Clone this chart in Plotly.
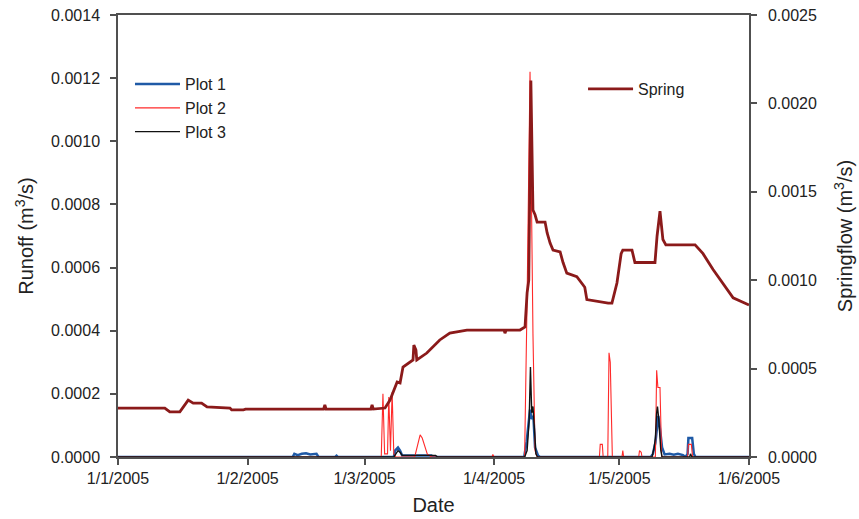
import pandas as pd
import plotly.graph_objects as go

BASE = pd.Timestamp("2005-01-01")

# ---- Spring flow (right axis, m3/s); days since 1 Jan 2005 ----
spring_day = [0, 8, 11.2, 12.4, 14.8, 16.8, 18, 20, 21.3, 26.8, 27.2, 30, 30.5, 49.2, 49.5, 49.8,
              60.5, 60.8, 61.1, 63.9, 65.1, 66.8, 67.5, 68.2, 70.6, 70.8, 71.3, 71.5, 73.9, 77, 79.4,
              83.5, 92.4, 92.6, 92.9, 96.2, 97.4, 97.9, 98.3, 98.8, 99.3, 99.8, 100.3, 102.2, 102.7,
              103.4, 104.1, 105.8, 106.5, 107.4, 109.8, 111.7, 112.2, 117.3, 118.2, 119.4, 119.9,
              120.4, 120.8, 123, 123.7, 128.5, 129, 129.7, 130.4, 131.1, 138.1, 140, 142.4, 144.8,
              147.2, 151]
spring_flow = [0.000277, 0.000277, 0.000277, 0.000255, 0.000255, 0.000322, 0.000305, 0.000305,
               0.000283, 0.000277, 0.000266, 0.000266, 0.000271, 0.000271, 0.000294, 0.000271,
               0.000271, 0.000294, 0.000271, 0.000277, 0.000322, 0.000424, 0.000419, 0.000509,
               0.000549, 0.000633, 0.000605, 0.000549, 0.000588, 0.000662, 0.000701, 0.000718,
               0.000718, 0.000700, 0.000718, 0.000718, 0.000735, 0.000928, 0.001000, 0.002130,
               0.001397, 0.001370, 0.001329, 0.001329, 0.001267, 0.001210, 0.001170, 0.001160,
               0.001100, 0.001040, 0.001020, 0.000960, 0.000890, 0.000870, 0.000870, 0.000984,
               0.001060, 0.001150, 0.001170, 0.001170, 0.001100, 0.001100, 0.001250, 0.001390,
               0.001230, 0.001200, 0.001200, 0.001150, 0.001060, 0.000980, 0.000900, 0.000860]

# ---- Runoff (left axis, m3/s) ----
plot1_day = [0, 41.8, 42.2, 43, 44, 45, 46, 47.5, 48, 52, 52.3, 52.6, 66, 66.3, 67, 67.5, 68, 75,
             75.5, 97.2, 97.8, 98.6, 99.0, 99.4, 99.8, 100.5, 101, 127.5, 128, 128.6, 129, 129.3,
             129.7, 130.2, 130.8, 132, 133, 134, 135.2, 135.8, 136.3, 136.5, 137.4, 137.8, 138.2, 151]
plot1_runoff = [0, 0, 0.00001, 0.000006, 0.00001, 0.000012, 0.000008, 0.00001, 0, 0, 0.000004, 0,
                0, 0.00002, 0.00003, 0.00002, 0.000005, 0.000005, 0, 0, 0.00005, 0.00015, 0.00012,
                0.00013, 0.00003, 0.000005, 0, 0, 0.00001, 0.000045, 0.000095, 0.00013, 0.00009,
                0.00003, 0.000008, 0.00001, 0.000007, 0.00001, 0.000006, 0, 0.00001, 0.00006,
                0.00006, 0.00001, 0, 0]

plot2_day = [0, 63.0, 63.4, 63.8, 64.5, 64.8, 65.2, 65.6, 66.0, 66.5, 71, 71.6, 72.3, 72.8, 73.3, 74,
             75, 89.5, 89.7, 90, 97.3, 97.6, 97.9, 98.6, 99.0, 99.3, 99.8, 100.3, 115.2, 115.4,
             115.9, 116.1, 117.2, 117.5, 117.8, 118.3, 120.6, 120.8, 121.0, 124.6, 124.8, 125.2,
             125.4, 128.6, 128.9, 129.2, 129.7, 130.1, 136.3, 136.5, 137.2, 137.5, 151]
plot2_runoff = [0, 0, 0.0002, 0.00001, 0.00001, 0.00019, 0.00002, 0.000205, 0.00001, 0, 0, 0.00003,
                0.00007, 0.00006, 0.00004, 0.00001, 0, 0, 0.000008, 0, 0, 0.0002, 0.0005, 0.00122,
                0.0006, 0.00039, 0.00002, 0, 0, 0.00004, 0.00004, 0, 0, 0.00033, 0.0003, 0, 0,
                0.00002, 0, 0, 0.00002, 0.000015, 0, 0, 0.000275, 0.00022, 0.00022, 0, 0, 0.00004,
                0.00004, 0, 0]

plot3_day = [0, 66, 66.5, 67, 67.5, 68, 76, 76.5, 97.3, 97.9, 98.4, 98.7, 99.0, 99.3, 99.6, 100,
             100.4, 127.8, 128.3, 128.6, 128.9, 129.1, 129.4, 129.9, 130.2, 136.8, 137, 137.3, 151]
plot3_runoff = [0, 0, 0.00001, 0.00002, 0.000015, 0.000005, 0.000005, 0, 0, 0.00002, 0.00012,
                0.000285, 0.00014, 0.00016, 0.0001, 0.00001, 0, 0, 0.00003, 0.00006, 0.00014,
                0.00016, 0.00012, 0.00002, 0, 0, 0.00001, 0, 0]

# ---- Tick labels ----
x_tickvals = ["2005-01-01", "2005-02-01", "2005-03-01", "2005-04-01", "2005-05-01", "2005-06-01"]
x_ticktext = ["1/1/2005", "1/2/2005", "1/3/2005", "1/4/2005", "1/5/2005", "1/6/2005"]


def to_dates(days):
    return BASE + pd.to_timedelta(days, unit="D")


FONT = "Liberation Sans, Arial, sans-serif"
AX = "#505050"

fig = go.Figure()
fig.add_trace(go.Scatter(x=to_dates(plot1_day), y=plot1_runoff, mode="lines", name="Plot 1",
                         line=dict(color="#1f5aa6", width=2.5), legend="legend"))
fig.add_trace(go.Scatter(x=to_dates(plot2_day), y=plot2_runoff, mode="lines", name="Plot 2",
                         line=dict(color="#ff2a2a", width=1.1), legend="legend"))
fig.add_trace(go.Scatter(x=to_dates(plot3_day), y=plot3_runoff, mode="lines", name="Plot 3",
                         line=dict(color="#111111", width=1.4), legend="legend"))
fig.add_trace(go.Scatter(x=to_dates(spring_day), y=spring_flow, mode="lines", name="Spring",
                         line=dict(color="#8b1a1a", width=2.8), yaxis="y2", legend="legend2"))

axis_common = dict(showgrid=False, zeroline=False, showline=True, linecolor=AX, linewidth=1.5,
                   ticks="outside", ticklen=6, tickcolor=AX, tickwidth=1.5, automargin=False)

fig.update_layout(
    width=859, height=519,
    margin=dict(l=118, r=110, t=15, b=62),
    paper_bgcolor="white", plot_bgcolor="white",
    font=dict(family=FONT, size=16, color="#222222"),
    xaxis=dict(type="date", range=["2005-01-01", "2005-06-01"],
               tickvals=x_tickvals, ticktext=x_ticktext, mirror=True,
               title=dict(text="Date", font=dict(size=20), standoff=12), **axis_common),
    yaxis=dict(range=[0, 0.0014], dtick=0.0002, tick0=0, tickformat=".4f",
               ticklabelstandoff=7,
               title=dict(text="Runoff (m<sup>3</sup>/s)", font=dict(size=20), standoff=12),
               **axis_common),
    yaxis2=dict(range=[0, 0.0025], dtick=0.0005, tick0=0, tickformat=".4f",
                overlaying="y", side="right", ticklabelstandoff=8,
                title=dict(text="Springflow (m<sup>3</sup>/s)", font=dict(size=20), standoff=22),
                **axis_common),
    legend=dict(x=0.019, y=0.882, xanchor="left", yanchor="top", bgcolor="rgba(0,0,0,0)",
                font=dict(size=16), itemwidth=45, tracegroupgap=0),
    legend2=dict(x=0.737, y=0.871, xanchor="left", yanchor="top", bgcolor="rgba(0,0,0,0)",
                 font=dict(size=16), itemwidth=45),
)

fig.write_html("out.html")
